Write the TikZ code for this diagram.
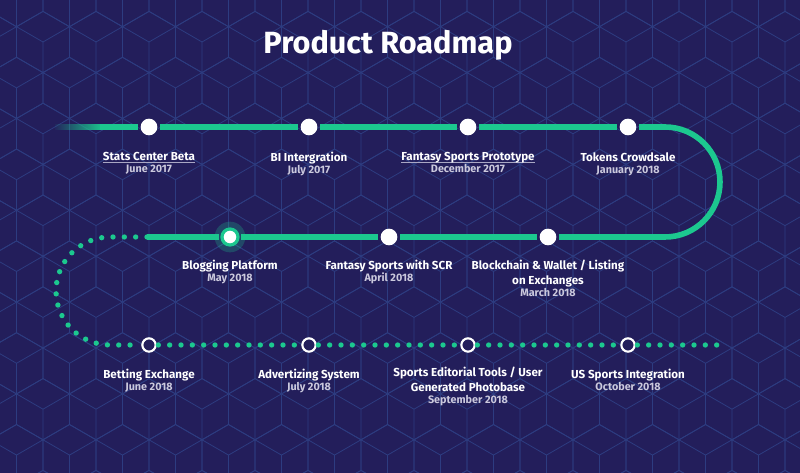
\documentclass[tikz,border=0pt]{standalone}
\usepackage{fontspec}
\setmainfont{Fira Sans}
\usetikzlibrary{positioning,fadings}
\definecolor{bgColor}{HTML}{231E5B}
\definecolor{trackColor}{HTML}{1CC88F}
\definecolor{hexColor}{HTML}{2D3C80}
\definecolor{dateColor}{HTML}{CBC9DD}
\definecolor{ulColor}{HTML}{A9A7C4}
\tikzfading[name=fade in, left color=transparent!100, right color=transparent!0]
\tikzset{
	track/.style={draw=trackColor, line width=4.2pt},
	dots/.style={draw=trackColor, line width=4pt, line cap=round, dash pattern=on 0pt off 8.5pt},
	ms/.style={circle, fill=white, inner sep=0, minimum size=12.5pt, outer sep=2pt},
	msh/.style={circle, draw=white, fill=bgColor, line width=1.6pt, inner sep=0, minimum size=10pt, outer sep=2pt},
	glow/.style={circle, fill=trackColor, fill opacity=0.25, inner sep=0, minimum size=23pt},
	lab/.style={anchor=north, align=center, inner sep=0, text=white, font=\bfseries\fontsize{8.7}{9}\selectfont},
	hexline/.style={draw=hexColor, line width=0.6pt}
}
\newcommand{\when}[1]{\\\color{dateColor}\fontsize{8.1}{9}\selectfont #1}
\newcommand{\lnk}[1]{\setbox0\hbox{#1}\rlap{\color{ulColor}\rule[-1.6pt]{\wd0}{0.6pt}}\box0}

\begin{document}
\begin{tikzpicture}[x=0.75pt, y=-0.75pt]
	\fill[bgColor] (0,0) rectangle (800,473);
	\useasboundingbox (0,0) rectangle (800,473);
	% cube pattern
	\begin{scope}
		\clip (0,0) rectangle (800,473);
		\foreach \j in {-1,...,10} {
			\foreach \i in {-2,...,15} {
				\pgfmathsetmacro\cx{96+53*\i+26.5*mod(\j,2)}
				\pgfmathsetmacro\cy{42+45.9*\j}
				\draw[hexline] (\cx,\cy) +(30:30.6) -- +(90:30.6) -- +(150:30.6) -- +(210:30.6) -- +(270:30.6) -- +(330:30.6) -- cycle
					(\cx,\cy) -- +(90:30.6) (\cx,\cy) -- +(210:30.6) (\cx,\cy) -- +(330:30.6);
			}
		}
	\end{scope}
	
	\node[glow] (g7) at (230,237) {};
	\node[ms] (m1) at (149,127) {};
	\node[ms] (m2) at (309,127) {};
	\node[ms] (m3) at (468,127) {};
	\node[ms] (m4) at (628,127) {};
	\node[ms] (m5) at (548,237) {};
	\node[ms] (m6) at (389,237) {};
	\node[ms, draw=trackColor, line width=2.4pt, minimum size=12pt] (m7) at (230,237) {};
	\node[msh] (m9) at (149,345) {};
	\node[msh] (m10) at (309,345) {};
	\node[msh] (m11) at (468,345) {};
	\node[msh] (m12) at (628,345) {};
	
	\coordinate (s0) at (55,127);
	\coordinate (s1) at (100,127);
	\coordinate (r1) at (665,127);
	\coordinate (s2) at (147,237);
	\coordinate (r2) at (110,237);
	\coordinate (e3) at (717,345);
	
	\draw[track, path fading=fade in] (s0) -- (s1);
	\draw[track] (s1) -- (m1) (m1) -- (m2) (m2) -- (m3) (m3) -- (m4);
	\draw[track] (m4) -- (r1) arc[start angle=-90, end angle=90, radius=55] -- (m5);
	\draw[track] (m5) -- (m6) (m6) -- (m7) (m7) -- (s2);
	\draw[dots] (s2) -- (r2) arc[start angle=-90, end angle=-270, radius=54] -- (m9);
	\draw[dots] (m9) -- (m10) (m10) -- (m11) (m11) -- (m12) (m12) -- (e3);
	
	\node[lab] (l1) at (149,152) {\lnk{Stats Center Beta}\when{June 2017}};
	\node[lab] (l2) at (309,152) {BI Intergration\when{July 2017}};
	\node[lab] (l3) at (468,152) {\lnk{Fantasy Sports Prototype}\when{December 2017}};
	\node[lab] (l4) at (628,152) {Tokens Crowdsale\when{January 2018}};
	\node[lab] (l5) at (548,260) {Blockchain \& Wallet / Listing\\[2.25pt]on Exchanges\when{March 2018}};
	\node[lab] (l6) at (389,260) {Fantasy Sports with SCR\when{April 2018}};
	\node[lab] (l7) at (230,260) {Blogging Platform\when{May 2018}};
	\node[lab] (l9) at (149,369) {Betting Exchange\when{June 2018}};
	\node[lab] (l10) at (309,369) {Advertizing System\when{July 2018}};
	\node[lab] (l11) at (468,367) {Sports Editorial Tools / User\\[2.25pt]Generated Photobase\when{September 2018}};
	\node[lab] (l12) at (628,369) {US Sports Integration\when{October 2018}};
	
	\node[text=white, font=\bfseries\fontsize{23}{26}\selectfont] (title) at (388,45) {Product Roadmap};
\end{tikzpicture}
\end{document}
